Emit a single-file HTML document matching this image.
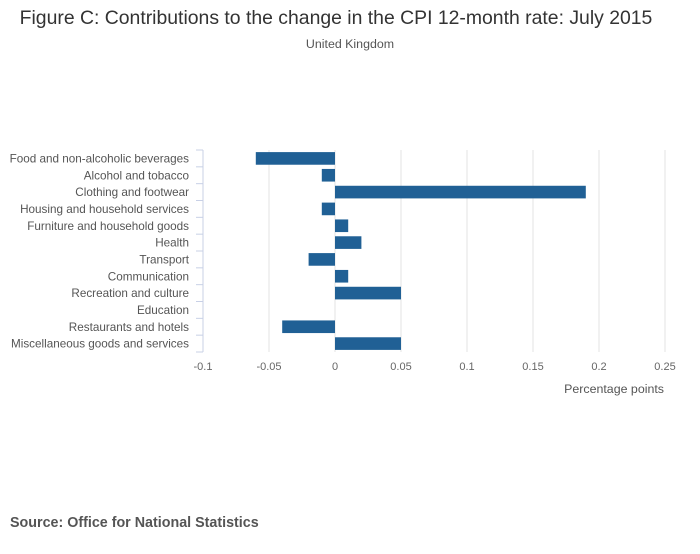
<!DOCTYPE html>
<html><head><meta charset="utf-8"><style>
body{margin:0;background:#fff;font-family:"Liberation Sans",sans-serif;}
svg text{font-family:"Liberation Sans",sans-serif;}
</style></head><body>
<svg width="700" height="549">
<text x="336" y="24" text-anchor="middle" font-size="19.4" fill="#333">Figure C: Contributions to the change in the CPI 12-month rate: July 2015</text>
<text x="350" y="48" text-anchor="middle" font-size="12.4" fill="#555">United Kingdom</text>
<g id="grid"></g><g id="bars"></g><g id="yaxis"></g><g id="xticks"></g>
<text x="664" y="393" text-anchor="end" font-size="12.4" fill="#555">Percentage points</text>
<text x="10" y="527" font-size="14.3" font-weight="bold" fill="#555">Source: Office for National Statistics</text>
</svg>
<script>
const categories=["Food and non-alcoholic beverages","Alcohol and tobacco","Clothing and footwear","Housing and household services","Furniture and household goods","Health","Transport","Communication","Recreation and culture","Education","Restaurants and hotels","Miscellaneous goods and services"];
const values=[-0.06,-0.01,0.19,-0.01,0.01,0.02,-0.02,0.01,0.05,0,-0.04,0.05];
const xTicks=[-0.1,-0.05,0,0.05,0.1,0.15,0.2,0.25];
const xTickLabels=["-0.1","-0.05","0","0.05","0.1","0.15","0.2","0.25"];
const NS="http://www.w3.org/2000/svg";
const x0=203,x1=665,vmin=-0.1,vmax=0.25,yTop=150,yBot=352;
const xs=v=>x0+(v-vmin)/(vmax-vmin)*(x1-x0);
const band=(yBot-yTop)/categories.length;
const ys=i=>yTop+i*band;
function mk(t,a,p){const e=document.createElementNS(NS,t);for(const k in a)e.setAttribute(k,a[k]);document.getElementById(p).appendChild(e);return e;}
xTicks.forEach((v,i)=>{
 if(i>0){const g=mk('line',{x1:xs(v),x2:xs(v),y1:yTop,y2:yBot,stroke:'#e3e3e3','stroke-width':1},'grid');
 
 }
 const t=mk('text',{x:xs(v),y:370,'text-anchor':'middle','font-size':11,fill:'#666'},'xticks');
 t.textContent=xTickLabels[i];
 
 
});
const ax=mk('line',{x1:x0,x2:x0,y1:yTop,y2:yBot,stroke:'#c8d0e6','stroke-width':1},'yaxis');


for(let i=0;i<=categories.length;i++){
 const tk=mk('line',{x1:196,x2:x0,y1:ys(i),y2:ys(i),stroke:'#c8d0e6','stroke-width':1},'yaxis');
 
 
}
categories.forEach((c,i)=>{
 const t=mk('text',{x:189,y:ys(i)+band/2+4,'text-anchor':'end','font-size':11.7,fill:'#555'},'yaxis');
 t.textContent=c;
 
 
 const v=values[i];const a=xs(Math.min(0,v)),b=xs(Math.max(0,v));
 const r=mk('rect',{x:a,y:ys(i)+2.1,width:b-a,height:band-4.2,fill:'#206095'},'bars');
 
 
});
</script>
</body></html>
